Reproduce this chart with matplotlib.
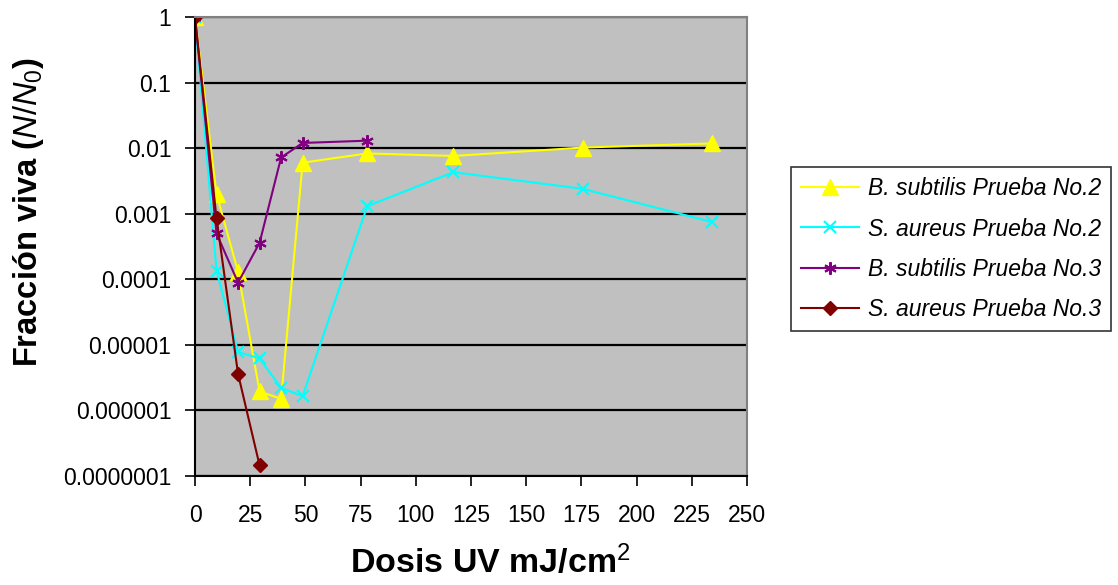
import matplotlib
matplotlib.use("Agg")
import matplotlib.pyplot as plt
import numpy as np

plt.rcParams['font.family'] = ['Liberation Sans', 'DejaVu Sans']
plt.rcParams['mathtext.fontset'] = 'custom'
plt.rcParams['mathtext.rm'] = 'Liberation Sans'
plt.rcParams['mathtext.it'] = 'Liberation Sans:italic'
plt.rcParams['mathtext.bf'] = 'Liberation Sans:bold'

# dosis UV (mJ/cm2)
dosis = [0, 9.75, 19.5, 29.25, 39, 48.75, 78, 117, 175.5, 234]

# fraccion viva N/N0
bs_2 = [1, 0.002, 1.3e-4, 1.95e-6, 1.5e-6, 0.006, 0.0083, 0.0076, 0.0102, 0.0118]
sa_2 = [1, 1.35e-4, 7.8e-6, 6.2e-6, 2.2e-6, 1.65e-6, 0.0013, 0.0043, 0.0024, 0.00075]
bs_3 = [1, 5e-4, 8.9e-5, 3.6e-4, 0.0072, 0.012, 0.013]
sa_3 = [1, 8.5e-4, 3.6e-6, 1.45e-7]

labels = ['B. subtilis Prueba No.2', 'S. aureus Prueba No.2',
          'B. subtilis Prueba No.3', 'S. aureus Prueba No.3']

y_ticks = [1, 0.1, 0.01, 0.001, 0.0001, 0.00001, 0.000001, 0.0000001]
y_ticklabels = ['1', '0.1', '0.01', '0.001', '0.0001', '0.00001',
                '0.000001', '0.0000001']
x_ticks = [0, 25, 50, 75, 100, 125, 150, 175, 200, 225, 250]

fig = plt.figure(figsize=(11.18, 5.85), dpi=100)
ax = fig.add_axes([195/1118, 1-476/585, 552/1118, 459/585])
ax.set_facecolor('#C0C0C0')

ax.plot(dosis, bs_2, color='#FFFF00', lw=1.5, marker='^', ms=11, label=labels[0])
ax.plot(dosis, sa_2, color='#00FFFF', lw=1.5, marker='x', ms=8, mew=1.5, label=labels[1])
ax.plot(dosis[:len(bs_3)], bs_3, color='#800080', lw=1.5, marker=(6, 2, 0), ms=9,
        mew=1.5, label=labels[2])
ax.plot(dosis[:len(sa_3)], sa_3, color='#800000', lw=1.5, marker='D', ms=7, label=labels[3])

ax.set_yscale('log')
ax.set_ylim(1e-7, 1)
ax.set_xlim(0, 250)
ax.set_yticks(y_ticks)
ax.set_yticklabels(y_ticklabels)
ax.yaxis.set_minor_locator(matplotlib.ticker.NullLocator())
ax.set_xticks(x_ticks)
ax.tick_params(axis='both', labelsize=16.5, length=7, width=1.2, direction='out')
ax.tick_params(axis='y', pad=10)
ax.tick_params(axis='x', pad=13)

ax.grid(axis='y', which='major', color='black', lw=1.6)
ax.set_axisbelow(True)
for s in ['top', 'right']:
    ax.spines[s].set_color('#808080')
    ax.spines[s].set_linewidth(1.5)
for s in ['left', 'bottom']:
    ax.spines[s].set_color('black')
    ax.spines[s].set_linewidth(1.5)

fig.text(490/1118, 1-573/585, 'Dosis UV mJ/cm$^{2}$', fontsize=24.5,
         fontweight='bold', ha='center', va='baseline')
fig.text(29/1118, 1-212/585, r'Fracción viva ($\mathit{N/N_0}$)', fontsize=23.5,
         fontweight='bold', rotation=90, ha='center', va='center')

leg = fig.legend(loc='upper left', bbox_to_anchor=(791/1118, 1-167/585),
                 borderaxespad=0, fancybox=False, frameon=True,
                 prop={'style': 'italic', 'size': 16.5}, handlelength=2.5,
                 handletextpad=0.4, borderpad=0.45, labelspacing=0.75)
leg.get_frame().set_edgecolor('black')
leg.get_frame().set_linewidth(1.2)

fig.savefig('out.png', dpi=100)
